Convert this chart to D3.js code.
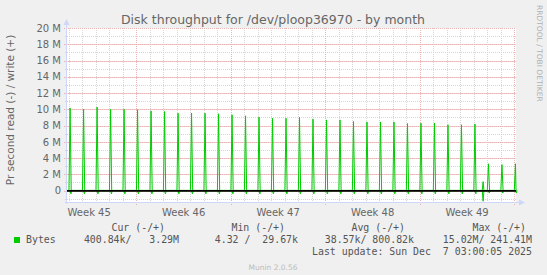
<!DOCTYPE html>
<html>
<head>
<meta charset="utf-8">
<script src="https://cdn.jsdelivr.net/npm/d3@7"></script>
<style>
  body { margin: 0; background: #f0f0f0; }
  svg { display: block; }
  text { font-family: "DejaVu Sans", sans-serif; fill: #666; }
  .mono { font-family: "DejaVu Sans Mono", monospace; font-size: 9.9px; white-space: pre; fill: #555; }
</style>
</head>
<body>
<svg id="chart"></svg>
<script>
// spikes: one per day at 02:00 (write bytes, M per second)
var spikeDays = ["2025-11-04","2025-11-05","2025-11-06","2025-11-07","2025-11-08","2025-11-09","2025-11-10",
  "2025-11-11","2025-11-12","2025-11-13","2025-11-14","2025-11-15","2025-11-16","2025-11-17","2025-11-18",
  "2025-11-19","2025-11-20","2025-11-21","2025-11-22","2025-11-23","2025-11-24","2025-11-25","2025-11-26",
  "2025-11-27","2025-11-28","2025-11-29","2025-11-30","2025-12-01","2025-12-02","2025-12-03","2025-12-04",
  "2025-12-05","2025-12-06","2025-12-07"];
var writeVals = [10.15, 10.0, 10.27, 10.0, 10.0, 9.94, 9.8, 9.73, 9.53, 9.53, 9.53, 9.45, 9.32, 9.2, 9.04,
  8.9, 8.9, 9.0, 8.8, 8.7, 8.7, 8.5, 8.45, 8.45, 8.45, 8.25, 8.3, 8.3, 8.1, 8.1, 8.2, 3.3, 3.2, 3.3];
var readVals = [0.4, 0.4, 0.4, 0.4, 0.4, 0.4, 0.4, 0.4, 0.4, 0.4, 0.4, 0.4, 0.4, 0.4, 0.4,
  0.4, 0.4, 0.4, 0.4, 0.4, 0.4, 0.4, 0.4, 0.4, 0.4, 0.4, 0.4, 0.4, 0.4, 0.4, 0.4, 0.3, 0.3, 0.3];
// one odd event in the afternoon of Dec 4
var extraTime = "2025-12-04T16:30";
var extraWrite = 1.1, extraRead = 1.3;

var weekStarts = ["2025-11-02","2025-11-09","2025-11-16","2025-11-23","2025-11-30","2025-12-07"];
var weekLabels = ["Week 45","Week 46","Week 47","Week 48","Week 49"];
var yTicks = [0, 2, 4, 6, 8, 10, 12, 14, 16, 18, 20];

var legendHead = ["Cur (-/+)", "Min (-/+)", "Avg (-/+)", "Max (-/+)"];
var legendVals = ["400.84k/   3.29M", "4.32 /  29.67k", "38.57k/ 800.82k", "15.02M/ 241.41M"];

var W = 547, H = 275;
var pLeft = 67, pRight = 516, pTop = 28, pBottom = 202;
var HOUR = 3600e3, DAY = 24 * HOUR;
var tStart = new Date("2025-11-03T20:30:00Z"), tEnd = new Date("2025-12-07T03:00:00Z");
function utc(s) { return new Date(s + (s.length > 10 ? ":00Z" : "T00:00:00Z")); }

var svg = d3.select("#chart").attr("width", W).attr("height", H);

var x = d3.scaleUtc().domain([tStart, tEnd]).range([pLeft, pRight]);
var y = d3.scaleLinear().domain([-1.4, 20]).range([pBottom, pTop]);

svg.append("rect").attr("x", pLeft).attr("y", pTop)
  .attr("width", pRight - pLeft).attr("height", pBottom - pTop).attr("fill", "#fff");

// minor grid
var minorCol = "#d6d6d6", majorCol = "#ebb4b4";
var g = svg.append("g");
var days = d3.utcDay.range(d3.utcDay.ceil(tStart), tEnd);
g.selectAll(".vmin").data(days).enter().append("line")
  .attr("x1", d => Math.round(x(d)) + 0.5).attr("x2", d => Math.round(x(d)) + 0.5)
  .attr("y1", pTop).attr("y2", pBottom + 2)
  .attr("stroke", minorCol).attr("stroke-dasharray", "1,1");
var hmin = d3.range(-1, 20, 1);
g.selectAll(".hmin").data(hmin).enter().append("line")
  .attr("x1", pLeft - 2).attr("x2", pRight)
  .attr("y1", d => Math.round(y(d)) + 0.5).attr("y2", d => Math.round(y(d)) + 0.5)
  .attr("stroke", minorCol).attr("stroke-dasharray", "1,1");

// major grid
var weeks = weekStarts.map(utc).filter(d => d > tStart && d < tEnd);
g.selectAll(".vmaj").data(weeks).enter().append("line")
  .attr("x1", d => Math.round(x(d)) + 0.5).attr("x2", d => Math.round(x(d)) + 0.5)
  .attr("y1", pTop).attr("y2", pBottom + 3)
  .attr("stroke", majorCol).attr("stroke-dasharray", "1,1");
g.selectAll(".hmaj").data(yTicks).enter().append("line")
  .attr("x1", pLeft - 3).attr("x2", pRight)
  .attr("y1", d => Math.round(y(d)) + 0.5).attr("y2", d => Math.round(y(d)) + 0.5)
  .attr("stroke", majorCol).attr("stroke-dasharray", "1,1");

// y labels
svg.selectAll(".ylab").data(yTicks).enter().append("text")
  .attr("x", 61).attr("y", d => y(d) + 3.7)
  .attr("text-anchor", "end").style("font-size", "10px")
  .text(d => d === 0 ? "0" : d + " M");

// x labels, centred on each week
svg.selectAll(".xlab").data(weekLabels).enter().append("text")
  .attr("x", (d, i) => x(new Date(utc(weekStarts[i]).getTime() + 3.5 * DAY)))
  .attr("y", 216).attr("text-anchor", "middle").style("font-size", "10px")
  .text(d => d);

// axes with arrows
var axisCol = "#cfd6f8";
svg.append("line").attr("x1", pLeft - 0.5).attr("x2", pLeft - 0.5).attr("y1", pBottom + 2).attr("y2", pTop - 4)
  .attr("stroke", axisCol);
svg.append("path").attr("d", `M${pLeft - 3.5},${pTop - 3} L${pLeft - 0.5},${pTop - 9} L${pLeft + 2.5},${pTop - 3} Z`)
  .attr("fill", axisCol);
svg.append("line").attr("x1", pLeft - 2).attr("x2", pRight + 4).attr("y1", pBottom + 0.5).attr("y2", pBottom + 0.5)
  .attr("stroke", axisCol);
svg.append("path").attr("d", `M${pRight + 3},${pBottom - 2.5} L${pRight + 9},${pBottom + 0.5} L${pRight + 3},${pBottom + 3.5} Z`)
  .attr("fill", axisCol);

// build series
var writePts = [[tStart, 0.03]], readPts = [[tStart, -0.004]];
spikeDays.forEach(function(d, i) {
  var t = utc(d).getTime() + 2 * HOUR;
  writePts.push([new Date(t - 2 * HOUR), 0.03], [new Date(t), writeVals[i]], [new Date(t + 2 * HOUR), 0.03]);
  readPts.push([new Date(t), -0.004], [new Date(t + 1.5 * HOUR), -readVals[i]], [new Date(t + 3 * HOUR), -0.004]);
  if (d === extraTime.slice(0, 10)) {
    var te = utc(extraTime).getTime();
    writePts.push([new Date(te - 1.5 * HOUR), 0.03], [new Date(te), extraWrite], [new Date(te + 1.5 * HOUR), 0.03]);
    readPts.push([new Date(te - 1.5 * HOUR), -0.004], [new Date(te), -extraRead], [new Date(te + 1.5 * HOUR), -0.004]);
  }
});
writePts.push([tEnd, 0.03]);
readPts.push([tEnd, -0.004]);
writePts.sort((a, b) => a[0] - b[0]);
readPts.sort((a, b) => a[0] - b[0]);

var line = d3.line().x(d => x(d[0])).y(d => y(d[1]));
svg.append("path").datum(readPts).attr("d", line)
  .attr("fill", "none").attr("stroke", "#00cc00").attr("stroke-width", 1);
svg.append("path").datum(writePts).attr("d", line)
  .attr("fill", "none").attr("stroke", "#00cc00").attr("stroke-width", 1);

// zero rule
svg.append("line").attr("x1", pLeft).attr("x2", pRight).attr("y1", y(0) + 0.3).attr("y2", y(0) + 0.3)
  .attr("stroke", "#000").attr("stroke-width", 1.6);

// title and side labels
svg.append("text").attr("x", 273).attr("y", 24).attr("text-anchor", "middle")
  .style("font-size", "12.5px").text("Disk throughput for /dev/ploop36970 - by month");
svg.append("text").attr("transform", "translate(14,110) rotate(-90)").attr("text-anchor", "middle")
  .style("font-size", "10.5px").text("Pr second read (-) / write (+)");
svg.append("text").attr("transform", "translate(537,5) rotate(90)").attr("text-anchor", "start")
  .style("font-size", "7.5px").style("fill", "#b0b0b0").text("RRDTOOL / TOBI OETIKER");

// legend
var headEnds = [165, 285, 405, 526];
var valEnds = [179, 298, 414, 532];
svg.selectAll(".lh").data(legendHead).enter().append("text").attr("class", "mono")
  .attr("x", (d, i) => headEnds[i]).attr("y", 231).attr("text-anchor", "end").text(d => d);
svg.append("rect").attr("x", 14).attr("y", 237).attr("width", 6).attr("height", 6).attr("fill", "#00cc00");
svg.append("text").attr("class", "mono").attr("x", 26).attr("y", 243).text("Bytes");
svg.selectAll(".lv").data(legendVals).enter().append("text").attr("class", "mono")
  .attr("x", (d, i) => valEnds[i]).attr("y", 243).attr("text-anchor", "end").text(d => d);
svg.append("text").attr("class", "mono").attr("x", 532).attr("y", 255).attr("text-anchor", "end")
  .text("Last update: Sun Dec  7 03:00:05 2025");
svg.append("text").attr("x", 273).attr("y", 270).attr("text-anchor", "middle")
  .style("font-size", "7.5px").style("fill", "#bbb").text("Munin 2.0.56");
</script>
</body>
</html>
